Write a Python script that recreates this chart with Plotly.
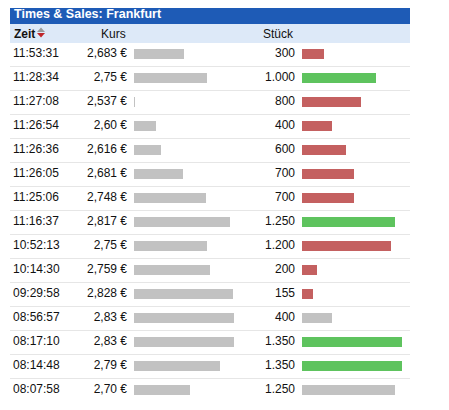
import plotly.graph_objects as go

# -- data
zeit = ['11:53:31', '11:28:34', '11:27:08', '11:26:54', '11:26:36', '11:26:05', '11:25:06',
        '11:16:37', '10:52:13', '10:14:30', '09:29:58', '08:56:57', '08:17:10', '08:14:48',
        '08:07:58']
kurs = [2.683, 2.75, 2.537, 2.60, 2.616, 2.681, 2.748, 2.817, 2.75, 2.759, 2.828, 2.83, 2.83,
        2.79, 2.70]
kurs_txt = ['2,683 €', '2,75 €', '2,537 €', '2,60 €', '2,616 €', '2,681 €', '2,748 €',
            '2,817 €', '2,75 €', '2,759 €', '2,828 €', '2,83 €', '2,83 €', '2,79 €', '2,70 €']
stueck = [300, 1000, 800, 400, 600, 700, 700, 1250, 1200, 200, 155, 400, 1350, 1350, 1250]
stueck_txt = ['300', '1.000', '800', '400', '600', '700', '700', '1.250', '1.200', '200',
              '155', '400', '1.350', '1.350', '1.250']
richtung = ['down', 'up', 'down', 'down', 'down', 'down', 'down', 'up', 'down', 'down',
            'down', 'flat', 'up', 'up', 'flat']

# the page body has an 8px margin, so the figure is a bit smaller
OFF = 8
W, H = 449 - OFF, 410 - OFF
FONT = 'Liberation Sans, Arial, Helvetica, sans-serif'
farben = {'up': '#5ec35e', 'down': '#c46060', 'flat': '#c2c2c2'}


def px(x):
    return (x - OFF) / W


def py(y):
    return 1 - (y - OFF) / H


def tri(pts):
    # dreieck als svg-pfad in paper-koordinaten
    p = ['%s%.5f,%.5f' % ('M' if i == 0 else 'L', px(a), py(b)) for i, (a, b) in enumerate(pts)]
    return ' '.join(p) + ' Z'


rows = list(range(len(zeit)))

fig = go.Figure()

# kurs balken
fig.add_trace(go.Bar(x=kurs, y=rows, orientation='h', width=0.4,
                     marker=dict(color='#c2c2c2', line_width=0),
                     xaxis='x', yaxis='y', hoverinfo='skip'))

# stueck balken
fig.add_trace(go.Bar(x=stueck, y=rows, orientation='h', width=0.4,
                     marker=dict(color=[farben[r] for r in richtung], line_width=0),
                     xaxis='x2', yaxis='y', hoverinfo='skip'))

# texte der tabelle
txt_font = dict(family=FONT, size=12, color='#111111')
fig.add_trace(go.Scatter(x=[13] * len(rows), y=rows, text=zeit, mode='text',
                         textposition='middle right', textfont=txt_font,
                         xaxis='x3', yaxis='y', hoverinfo='skip'))
fig.add_trace(go.Scatter(x=[127] * len(rows), y=rows, text=kurs_txt, mode='text',
                         textposition='middle left', textfont=txt_font,
                         xaxis='x3', yaxis='y', hoverinfo='skip'))
fig.add_trace(go.Scatter(x=[295] * len(rows), y=rows, text=stueck_txt, mode='text',
                         textposition='middle left', textfont=txt_font,
                         xaxis='x3', yaxis='y', hoverinfo='skip'))

# titel und kopfzeile
fig.add_shape(type='rect', xref='paper', yref='paper', x0=px(10), x1=px(410),
              y0=py(24), y1=py(5), fillcolor='#1e5bb6', line_width=0, layer='below')
fig.add_shape(type='rect', xref='paper', yref='paper', x0=px(10), x1=px(410),
              y0=py(43), y1=py(24), fillcolor='#dde9f8', line_width=0, layer='below')

# sortierpfeile neben "Zeit"
fig.add_shape(type='path', xref='paper', yref='paper', line_width=0, fillcolor='#9a9a9a',
              path=tri([(37, 32), (45, 32), (41, 27.5)]))
fig.add_shape(type='path', xref='paper', yref='paper', line_width=0, fillcolor='#c0262a',
              path=tri([(37, 33), (45, 33), (41, 37.5)]))

fig.add_annotation(text='<b>Times & Sales: Frankfurt</b>', xref='paper', yref='paper',
                   x=px(12), y=py(14.5), xanchor='left', yanchor='middle', showarrow=False,
                   font=dict(family=FONT, size=12.5, color='white'))
fig.add_annotation(text='<b>Zeit</b>', xref='paper', yref='paper', x=px(12), y=py(33.5),
                   xanchor='left', yanchor='middle', showarrow=False, font=txt_font)
fig.add_annotation(text='Kurs', xref='paper', yref='paper', x=px(127.5), y=py(33.5),
                   xanchor='right', yanchor='middle', showarrow=False, font=txt_font)
fig.add_annotation(text='Stück', xref='paper', yref='paper', x=px(295.5), y=py(33.5),
                   xanchor='right', yanchor='middle', showarrow=False, font=txt_font)

hidden = dict(showgrid=False, zeroline=False, showticklabels=False, ticks='', fixedrange=True)

fig.update_layout(
    width=W, height=H, autosize=False,
    margin=dict(l=0, r=0, t=0, b=0, pad=0),
    paper_bgcolor='white', plot_bgcolor='rgba(0,0,0,0)',
    showlegend=False, bargap=0,
    xaxis=dict(domain=[px(134), px(234)], range=[2.535, 2.83], anchor='y', **hidden),
    xaxis2=dict(domain=[px(302), px(402)], range=[0, 1350], anchor='y', **hidden),
    xaxis3=dict(domain=[px(10), px(410)], range=[10, 410], anchor='y', **hidden),
    yaxis=dict(domain=[py(402.3), py(42.3)], range=[len(rows) - 0.5, -0.5],
               tickvals=[r + 0.5 for r in rows], showgrid=True, gridcolor='#e6e6e6',
               gridwidth=1, zeroline=False, showticklabels=False, ticks='',
               fixedrange=True),
)

fig.write_html('out.html')
